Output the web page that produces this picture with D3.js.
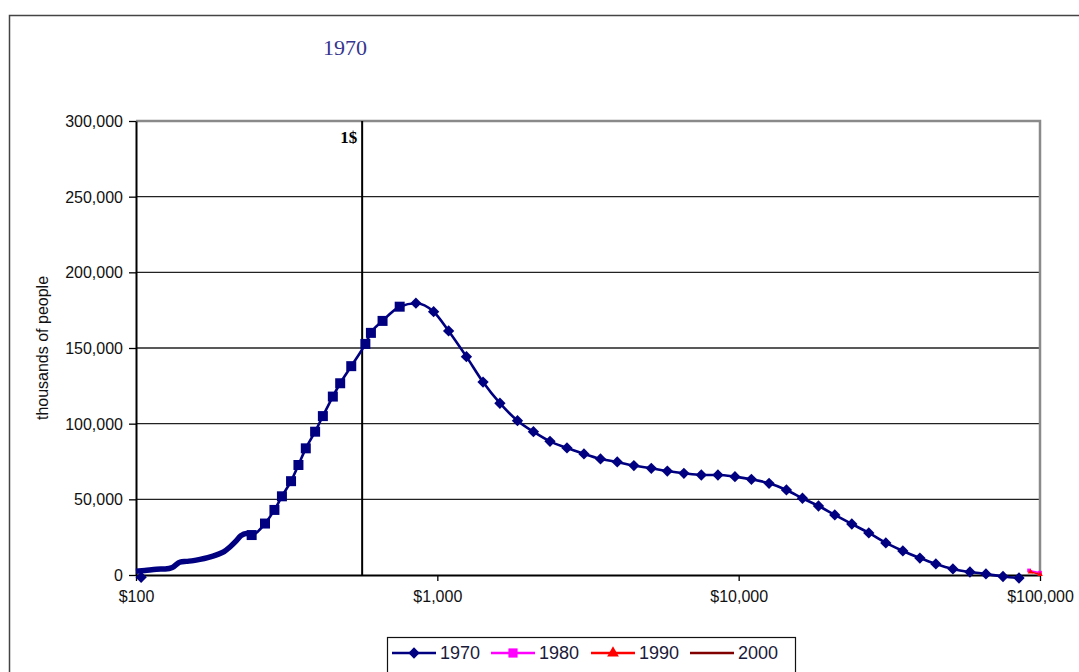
<!DOCTYPE html>
<html><head><meta charset="utf-8">
<script src="https://cdn.jsdelivr.net/npm/d3@7"></script>
<style>body{margin:0;background:#fff}svg{display:block}</style>
</head><body>
<svg id="c" width="1079" height="672"></svg>
<script>
// ---- data (income in $, population in thousands) ----
const title = "1970";
const seriesNames = ["1970", "1980", "1990", "2000"];
const seriesColors = ["#000080", "#FF00FF", "#FF0000", "#800000"];
const yTicks = [0, 50000, 100000, 150000, 200000, 250000, 300000];
const xTicks = [100, 1000, 10000, 100000];
const povertyLine = 563;
const povertyLabel = "1$";

// dense low-income part (drawn as thick line)
const income1970Low = [100, 107, 117, 125, 132, 140, 147, 155, 163, 173, 186, 196, 205, 215, 223, 232];
const pop1970Low = [2500, 3000, 3800, 4000, 5000, 8500, 9000, 9500, 10300, 11500, 13500, 15500, 18500, 22500, 26000, 27500];
// square-marked part
const income1970Sq = [242, 268, 288, 305, 327, 346, 366, 393, 417, 450, 476, 518, 577, 602, 658, 750];
const pop1970Sq = [26400, 34000, 43000, 52000, 62000, 72700, 83700, 94700, 105000, 117900, 126700, 138000, 152700, 160000, 167900, 177300];
// diamond-marked part
const income1970Dm = [849, 972, 1090, 1249, 1418, 1613, 1845, 2084, 2365, 2693, 3066, 3479, 3954, 4490, 5129, 5797, 6580, 7516, 8535, 9720, 11022, 12614, 14404, 16281, 18404, 20842, 23740, 27030, 30785, 35064, 39934, 45120, 51404, 58539, 66161, 75370, 85170];
const pop1970Dm = [179600, 174000, 161300, 144300, 127500, 113500, 102000, 94700, 88300, 84000, 80000, 76700, 74700, 72300, 70500, 68700, 67200, 66100, 66100, 65000, 63200, 60600, 56200, 50700, 45600, 39700, 33700, 27800, 21200, 15900, 11200, 7300, 4000, 2000, 700, -1000, -2000];

const income1980 = [92000, 100000];
const pop1980 = [3000, 1500];
const income1990 = [93000, 100000];
const pop1990 = [2000, 500];

// ---- layout ----
const svg = d3.select("#c");
const L = 136, R = 1040, T = 121, B = 575;
const x = d3.scaleLog().domain([100, 100000]).range([L, R]);
const y = d3.scaleLinear().domain([0, 300000]).range([B, T]);

// outer frame
svg.append("path").attr("d", "M9.5,690 V15.5 H1090").attr("fill", "none").attr("stroke", "#444").attr("stroke-width", 1.5);

// title
svg.append("text").attr("x", 345).attr("y", 55).attr("text-anchor", "middle")
  .attr("font-family", "'Liberation Serif','Times New Roman',serif").attr("font-size", 22)
  .attr("fill", "#35358f").text(title);

// gridlines
svg.append("g").selectAll("line").data(yTicks.filter(d => d > 0 && d < 300000)).join("line")
  .attr("x1", L).attr("x2", R).attr("y1", d => y(d)).attr("y2", d => y(d))
  .attr("stroke", "#222").attr("stroke-width", 1.4);

// top & right plot border (gray)
svg.append("path").attr("d", `M${L},${T} H${R} V${B}`).attr("fill", "none").attr("stroke", "#8a8a8a").attr("stroke-width", 2.5);

// axes
const yAxis = d3.axisLeft(y).tickValues(yTicks).tickSize(7).tickSizeOuter(0).tickFormat(d3.format(","));
const gy = svg.append("g").attr("transform", `translate(${L},0)`).call(yAxis);
gy.select(".domain").attr("stroke", "#000").attr("stroke-width", 2);
gy.selectAll(".tick line").attr("stroke", "#000").attr("stroke-width", 1.3);
gy.selectAll(".tick text").attr("font-family", "'Liberation Sans',Arial,sans-serif").attr("font-size", 16)
  .attr("fill", "#111").attr("x", -13).attr("dy", "0.35em");

const xAxis = d3.axisBottom(x).tickValues(xTicks).tickSize(6).tickSizeOuter(0).tickFormat(d => "$" + d3.format(",")(d));
const gx = svg.append("g").attr("transform", `translate(0,${B})`).call(xAxis);
gx.select(".domain").attr("stroke", "#000").attr("stroke-width", 2);
gx.selectAll(".tick line").attr("stroke", "#000").attr("stroke-width", 1.3);
gx.selectAll(".tick text").attr("font-family", "'Liberation Sans',Arial,sans-serif").attr("font-size", 16)
  .attr("fill", "#111").attr("y", 16).attr("dy", "0.71em");

// y label
svg.append("text").attr("transform", "translate(48,348) rotate(-90)").attr("text-anchor", "middle")
  .attr("font-family", "'Liberation Sans',Arial,sans-serif").attr("font-size", 16).attr("fill", "#111")
  .text("thousands of people");

// poverty line
svg.append("line").attr("x1", x(povertyLine)).attr("x2", x(povertyLine)).attr("y1", T).attr("y2", B)
  .attr("stroke", "#000").attr("stroke-width", 2);
svg.append("text").attr("x", x(povertyLine) - 5).attr("y", 143).attr("text-anchor", "end")
  .attr("font-family", "'Liberation Serif','Times New Roman',serif").attr("font-weight", "bold")
  .attr("font-size", 17).attr("fill", "#000").text(povertyLabel);

// 1970 series
const c70 = seriesColors[0];
const all70 = income1970Low.map((v, i) => [v, pop1970Low[i]])
  .concat(income1970Sq.map((v, i) => [v, pop1970Sq[i]]))
  .concat(income1970Dm.map((v, i) => [v, pop1970Dm[i]]));
const line = d3.line().x(d => x(d[0])).y(d => y(d[1])).curve(d3.curveMonotoneX);
svg.append("path").datum(income1970Low.map((v, i) => [v, pop1970Low[i]]).concat([[income1970Sq[0], pop1970Sq[0]]]))
  .attr("d", line).attr("fill", "none").attr("stroke", c70).attr("stroke-width", 5.5);
svg.append("path").datum(all70).attr("d", line).attr("fill", "none").attr("stroke", c70).attr("stroke-width", 2.6);

const sq = d3.symbol().type(d3.symbolSquare).size(100);
const dm = d3.symbol().type(d3.symbolSquare).size(64); // rotated 45° -> wide diamond
svg.append("g").selectAll("path").data(income1970Sq.map((v, i) => [v, pop1970Sq[i]])).join("path")
  .attr("d", sq).attr("transform", d => `translate(${x(d[0])},${y(d[1])})`).attr("fill", c70);
svg.append("g").selectAll("path").data(income1970Dm.map((v, i) => [v, pop1970Dm[i]])).join("path")
  .attr("d", dm).attr("transform", d => `translate(${x(d[0])},${y(d[1])}) rotate(45)`).attr("fill", c70);
// start marker
svg.append("path").attr("d", dm).attr("transform", `translate(${x(104)},${y(-1500)}) rotate(45)`).attr("fill", c70);

// 1980 / 1990 traces near the right end
const p80 = income1980.map((v, i) => [v, pop1980[i]]);
const p90 = income1990.map((v, i) => [v, pop1990[i]]);
svg.append("path").datum(p80).attr("d", d3.line().x(d => x(d[0])).y(d => y(d[1]))).attr("fill", "none").attr("stroke", seriesColors[1]).attr("stroke-width", 1.5);
svg.append("path").datum(p90).attr("d", d3.line().x(d => x(d[0])).y(d => y(d[1]))).attr("fill", "none").attr("stroke", seriesColors[2]).attr("stroke-width", 1.5);
svg.append("g").selectAll("path").data(p80).join("path").attr("d", d3.symbol().type(d3.symbolSquare).size(14))
  .attr("transform", d => `translate(${x(d[0])},${y(d[1])})`).attr("fill", seriesColors[1]);
svg.append("g").selectAll("path").data(p90).join("path").attr("d", d3.symbol().type(d3.symbolTriangle).size(14))
  .attr("transform", d => `translate(${x(d[0])},${y(d[1])})`).attr("fill", seriesColors[2]);

// legend
const lg = svg.append("g");
lg.append("rect").attr("x", 387.5).attr("y", 637.5).attr("width", 408).attr("height", 50)
  .attr("fill", "#fff").attr("stroke", "#111").attr("stroke-width", 1.2);
const legX = [392, 491, 591, 690];
const legSym = [d3.symbolSquare, d3.symbolSquare, d3.symbolTriangle, null];
const legRot = [45, 0, 0, 0];
const legSize = [64, 85, 60, 0];
seriesNames.forEach((n, i) => {
  const g = lg.append("g").attr("transform", `translate(${legX[i]},653)`);
  g.append("line").attr("x1", 0).attr("x2", 44).attr("y1", 0).attr("y2", 0).attr("stroke", seriesColors[i]).attr("stroke-width", 2.4);
  if (legSym[i]) g.append("path").attr("d", d3.symbol().type(legSym[i]).size(legSize[i])).attr("transform", `translate(22,0) rotate(${legRot[i]})`).attr("fill", seriesColors[i]);
  g.append("text").attr("x", 48).attr("y", 0).attr("dy", "0.36em")
    .attr("font-family", "'Liberation Sans',Arial,sans-serif").attr("font-size", 18).attr("fill", "#1a1a3a").text(n);
});
</script>
</body></html>
